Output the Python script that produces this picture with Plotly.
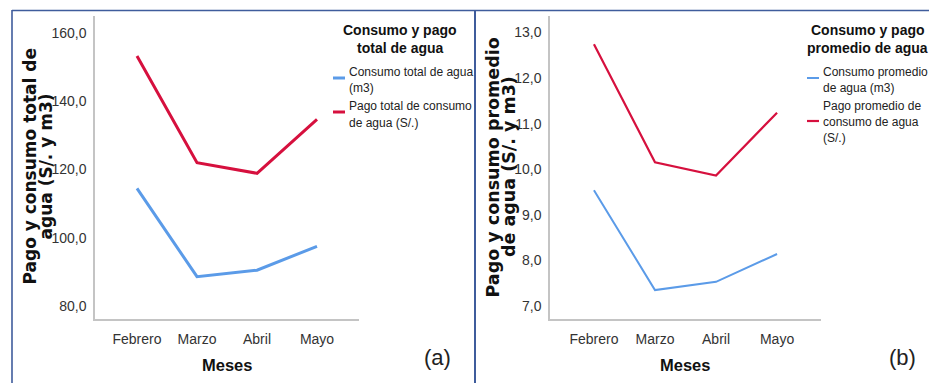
import plotly.graph_objects as go

W, H = 929, 383

# Months on the horizontal axis
meses = ["Febrero", "Marzo", "Abril", "Mayo"]

# (a) totals
consumo_total = [114.5, 88.6, 90.5, 97.5]      # m3
pago_total = [153.3, 122.0, 118.9, 134.7]      # S/.
ticks_a = [80, 100, 120, 140, 160]
ticklabels_a = ["80,0", "100,0", "120,0", "140,0", "160,0"]

# (b) averages
consumo_prom = [9.54, 7.35, 7.53, 8.14]        # m3
pago_prom = [12.74, 10.15, 9.86, 11.24]        # S/.
ticks_b = [7, 8, 9, 10, 11, 12, 13]
ticklabels_b = ["7,0", "8,0", "9,0", "10,0", "11,0", "12,0", "13,0"]

BLUE = "#5b9be8"
RED = "#d6103e"
SANS = "Liberation Sans, Arial, sans-serif"
BOLDFONT = "DejaVu Sans, Verdana, sans-serif"


def px(x):
    return x / W


def py(y):
    return 1 - y / H


fig = go.Figure()

fig.add_trace(go.Scatter(x=meses, y=consumo_total, mode="lines",
                         line=dict(color=BLUE, width=3), xaxis="x", yaxis="y",
                         name="Consumo total de agua (m3)"))
fig.add_trace(go.Scatter(x=meses, y=pago_total, mode="lines",
                         line=dict(color=RED, width=3), xaxis="x", yaxis="y",
                         name="Pago total de consumo de agua (S/.)"))
fig.add_trace(go.Scatter(x=meses, y=consumo_prom, mode="lines",
                         line=dict(color=BLUE, width=2), xaxis="x2", yaxis="y2",
                         name="Consumo promedio de agua (m3)"))
fig.add_trace(go.Scatter(x=meses, y=pago_prom, mode="lines",
                         line=dict(color=RED, width=2.2), xaxis="x2", yaxis="y2",
                         name="Pago promedio de consumo de agua (S/.)"))

ydom = [py(319), py(16)]
xaxis_common = dict(type="category", showgrid=False, zeroline=False, showline=True,
                    linecolor="#c4c4c4", linewidth=1.5, ticks="", ticklabelstandoff=6,
                    tickfont=dict(family=SANS, size=14, color="#333333"))
yaxis_common = dict(showgrid=False, zeroline=False, showline=True,
                    linecolor="#c4c4c4", linewidth=1.5, ticks="", ticklabelstandoff=4,
                    tickfont=dict(family=SANS, size=14, color="#333333"))

fig.update_layout(
    width=W, height=H,
    margin=dict(l=0, r=0, t=0, b=0),
    paper_bgcolor="white", plot_bgcolor="white",
    showlegend=False,
    xaxis=dict(domain=[px(95), px(359)], range=[-0.7, 3.7], anchor="y", **xaxis_common),
    yaxis=dict(domain=ydom, range=[76.2, 165.0], anchor="x",
               tickvals=ticks_a, ticktext=ticklabels_a, **yaxis_common),
    xaxis2=dict(domain=[px(550), px(821)], range=[-0.72, 3.72], anchor="y2", **xaxis_common),
    yaxis2=dict(domain=ydom, range=[6.715, 13.36], anchor="x2",
                tickvals=ticks_b, ticktext=ticklabels_b, **yaxis_common),
)

ann = []


def text(x, y, s, size, family=SANS, bold=False, angle=0, xanchor="center", color="#111111"):
    ann.append(dict(x=px(x), y=py(y), xref="paper", yref="paper", text=f"<b>{s}</b>" if bold else s,
                    showarrow=False, xanchor=xanchor, yanchor="middle", textangle=angle,
                    font=dict(family=family, size=size, color=color)))


# Rotated y-axis titles (two lines each)
text(29.5, 167, "Pago y consumo total de", 17, BOLDFONT, True, -90)
text(45.5, 167, "agua (S/. y m3)", 17, BOLDFONT, True, -90)
text(492.5, 167, "Pago y consumo promedio", 17.5, BOLDFONT, True, -90)
text(509, 167, "de agua (S/. y m3)", 17.5, BOLDFONT, True, -90)

# X-axis titles
text(226.5, 365, "Meses", 16.5, SANS, True)
text(685, 365, "Meses", 16.5, SANS, True)

# Panel tags
text(437.5, 357, "(a)", 22, SANS, color="#222222")
text(902.5, 357, "(b)", 22, SANS, color="#222222")

# Legend (a)
text(400, 30, "Consumo y pago", 14, SANS, True)
text(400, 48, "total de agua", 14, SANS, True)
text(347, 72, "Consumo total de agua", 12, SANS, xanchor="left", color="#222222")
text(347, 88, "(m3)", 12, SANS, xanchor="left", color="#222222")
text(347, 106, "Pago total de consumo", 12, SANS, xanchor="left", color="#222222")
text(347, 123, "de agua (S/.)", 12, SANS, xanchor="left", color="#222222")

# Legend (b)
text(867.5, 30, "Consumo y pago", 14, SANS, True)
text(867.5, 48, "promedio de agua", 14, SANS, True)
text(821, 72, "Consumo promedio", 12, SANS, xanchor="left", color="#222222")
text(821, 88, "de agua (m3)", 12, SANS, xanchor="left", color="#222222")
text(821, 106, "Pago promedio de", 12, SANS, xanchor="left", color="#222222")
text(821, 122, "consumo de agua", 12, SANS, xanchor="left", color="#222222")
text(821, 138, "(S/.)", 12, SANS, xanchor="left", color="#222222")

fig.update_layout(annotations=ann)

shapes = []


def seg(x0, y0, x1, y1, color, width):
    shapes.append(dict(type="line", xref="paper", yref="paper",
                       x0=px(x0), y0=py(y0), x1=px(x1), y1=py(y1),
                       line=dict(color=color, width=width)))


# Legend keys
seg(333, 78, 345, 78, BLUE, 3)
seg(333, 112, 345, 112, RED, 3)
seg(807, 78, 819, 78, BLUE, 2)
seg(807, 121, 819, 121, RED, 2.2)

# Panel frames
FRAME = "#3f5c9c"
seg(12, 10.5, 929, 10.5, FRAME, 1.6)
seg(12, 10, 12, 383, FRAME, 1.6)
seg(475, 10, 475, 383, FRAME, 2)

fig.update_layout(shapes=shapes)

fig.write_html("out.html")
